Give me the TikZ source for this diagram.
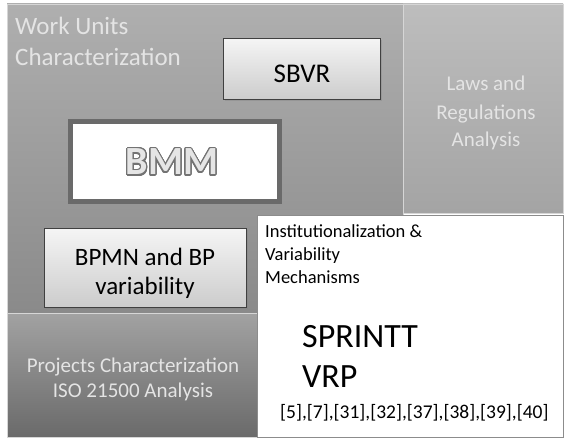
\documentclass[tikz,border=0pt]{standalone}
\usepackage{fontspec}
\setmainfont{Carlito}
\usepackage{contour}
\usetikzlibrary{shadows}
\definecolor{panelA}{HTML}{AFAFAF}
\definecolor{panelB}{HTML}{8A8A8A}
\definecolor{lawsA}{HTML}{BDBDBD}
\definecolor{lawsB}{HTML}{A4A4A4}
\definecolor{projA}{HTML}{A2A2A2}
\definecolor{projB}{HTML}{6A6A6A}
\definecolor{paleText}{HTML}{E4E4E4}
\definecolor{edge}{HTML}{D6D6D6}
\definecolor{bmmEdge}{HTML}{6A6A6A}
\contourlength{1.1pt}
\contournumber{32}
\tikzset{
  panel/.style={draw=edge, line width=0.8pt},
  keybox/.style={draw=black!75, line width=0.7pt, top color=white!96!black,
    bottom color=white!80!black, drop shadow={shadow xshift=1.2pt, shadow yshift=-1.2pt, opacity=0.35}},
  paletext/.style={text=paleText, font=\fontsize{21}{28}\selectfont, align=center, inner sep=0pt},
}
\begin{document}
\begin{tikzpicture}[x=1pt,y=-1pt]
\useasboundingbox (0,0) rectangle (565,441);
\fill[white] (0,0) rectangle (565,441);

% background panels
\path[panel, top color=panelA, bottom color=panelB] (7,4) rectangle (403,313);
\path[panel, top color=lawsA, bottom color=lawsB] (403,4) rectangle (563,213);
\path[panel, top color=projA, bottom color=projB] (7,313) rectangle (257,437);

% panel captions (base anchor sits on the last line)
\node[anchor=base west, text=paleText, align=left, inner sep=0pt,
      font=\fontsize{25}{31}\selectfont] (work) at (15,66)
      {Work Units\\Characterization};
\node[paletext, anchor=base] (laws) at (486,147) {Laws and\\Regulations\\Analysis};
\node[paletext, anchor=base, font=\fontsize{21}{25}\selectfont] (proj) at (133,397)
      {Projects Characterization\\ISO 21500 Analysis};

% boxes inside the work units panel
\node[keybox, minimum width=157pt, minimum height=61pt, anchor=north west] (sbvr) at (223,38) {};
\node[anchor=base, font=\fontsize{27}{30}\selectfont, inner sep=0pt] (sbvrtxt) at (302,83) {SBVR};

\node[draw=bmmEdge, line width=5pt, fill=white, minimum width=209pt, minimum height=79pt,
      anchor=north west, drop shadow={shadow xshift=1pt, shadow yshift=-1pt, opacity=0.3}]
      (bmm) at (67.5,119.5) {};
\node[anchor=base, inner sep=0pt, font=\fontsize{40}{44}\selectfont\bfseries] (bmmtxt) at (172,175)
      {\contour{black!55}{\color{black!10}BMM}};

\node[keybox, minimum width=202pt, minimum height=79pt, anchor=north west] (bpmn) at (44,228) {};
\node[anchor=base, align=center, inner sep=0pt, font=\fontsize{25}{29}\selectfont] (bpmntxt)
      at (145,294) {BPMN and BP\\variability};

% white mechanisms panel
\node[draw=black!45, line width=0.8pt, fill=white, minimum width=306pt, minimum height=222pt,
      anchor=north west, drop shadow={shadow xshift=1pt, shadow yshift=-1pt, opacity=0.3}]
      (mech) at (257,215) {};
\node[anchor=base west, align=left, inner sep=0pt, font=\fontsize{18.5}{23}\selectfont] (mechtxt)
      at (265,283) {Institutionalization \&\\Variability\\Mechanisms};
\node[anchor=base west, align=left, inner sep=0pt, font=\fontsize{34}{40}\selectfont] (sprintt)
      at (302,387) {SPRINTT\\VRP};
\node[anchor=base west, inner sep=0pt, font=\fontsize{19.5}{22}\selectfont] (refs)
      at (280,418) {[5],[7],[31],[32],[37],[38],[39],[40]};
\end{tikzpicture}
\end{document}
